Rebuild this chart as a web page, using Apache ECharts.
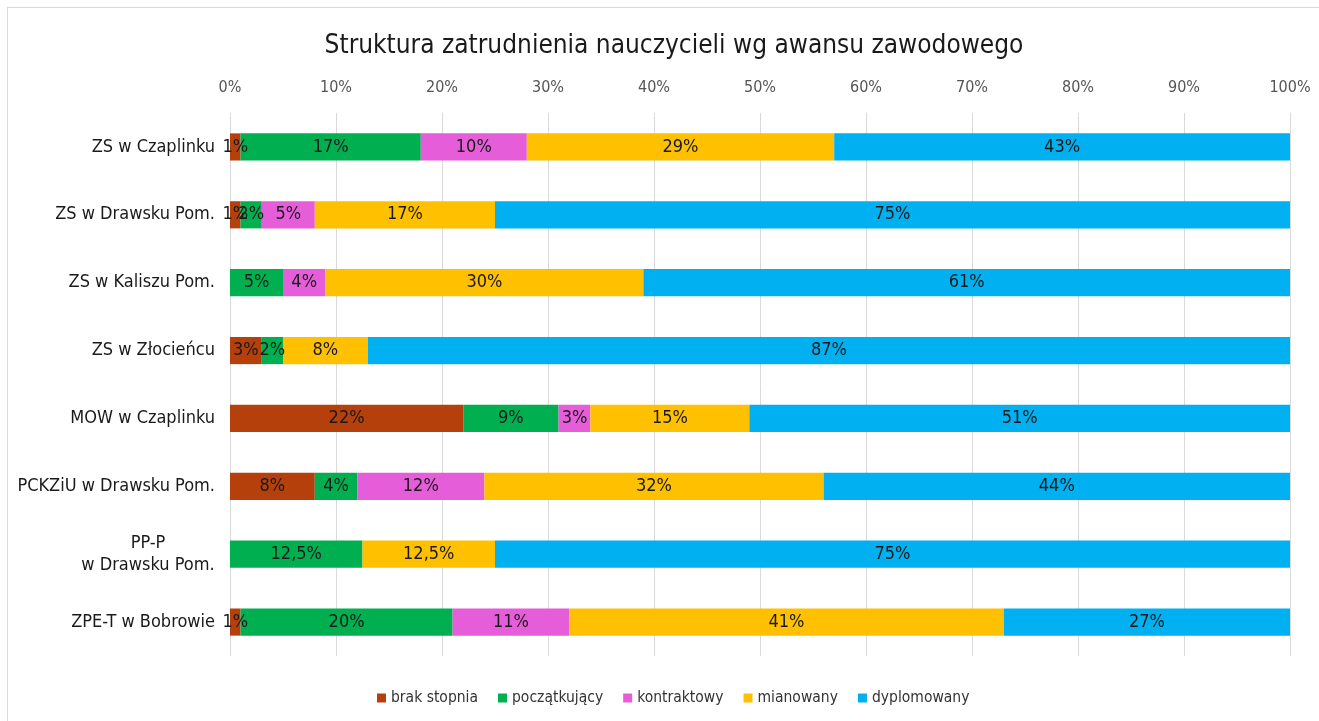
<!DOCTYPE html>
<html>
<head>
<meta charset="utf-8">
<script src="https://cdn.jsdelivr.net/npm/echarts@6/dist/echarts.min.js"></script>
<style>
  html, body { margin: 0; padding: 0; background: #fff; }
  #frame {
    position: absolute; left: 7px; top: 7px; width: 1320px; height: 720px;
    border: 1px solid #d9d9d9; box-sizing: border-box;
  }
  #chart { position: absolute; left: 0; top: 0; width: 1319px; height: 721px; }
</style>
</head>
<body>
<div id="frame"></div>
<div id="chart"></div>
<script>
// kategorie (od góry do dołu)
const categories = [
  "ZS w Czaplinku",
  "ZS w Drawsku Pom.",
  "ZS w Kaliszu Pom.",
  "ZS w Złocieńcu",
  "MOW w Czaplinku",
  "PCKZiU w Drawsku Pom.",
  "PP-P\nw Drawsku Pom.",
  "ZPE-T w Bobrowie"
]
const seriesNames = ["brak stopnia", "początkujący", "kontraktowy", "mianowany", "dyplomowany"]
const brakStopnia = [1, 1, 0, 3, 22, 8, 0, 1]
const poczatkujacy = [17, 2, 5, 2, 9, 4, 12.5, 20]
const kontraktowy = [10, 5, 4, 0, 3, 12, 0, 11]
const mianowany = [29, 17, 30, 8, 15, 32, 12.5, 41]
const dyplomowany = [43, 75, 61, 87, 51, 44, 75, 27]
const xTicks = [0, 10, 20, 30, 40, 50, 60, 70, 80, 90, 100]

const colors = ["#B5400C", "#00B050", "#E65DDA", "#FFC000", "#00B0F0"]
const values = [brakStopnia, poczatkujacy, kontraktowy, mianowany, dyplomowany]
const narrow = "Liberation Sans Narrow, DejaVu Sans Condensed, sans-serif"

const chart = echarts.init(document.getElementById("chart"))

const series = seriesNames.map(function (name, i) {
  return {
    name: name,
    type: "bar",
    stack: "total",
    barWidth: "40%",
    itemStyle: { color: colors[i] },
    label: {
      show: true,
      position: "inside",
      color: "#1a1a1a",
      fontSize: 18,
      fontFamily: narrow,
      formatter: function (p) {
        if (!p.value) return ""
        return String(p.value).replace(".", ",") + "%"
      }
    },
    data: values[i]
  }
})

const option = {
  animation: false,
  color: colors,
  title: {
    text: "Struktura zatrudnienia nauczycieli wg awansu zawodowego",
    left: 669,
    textAlign: "center",
    top: 28,
    textStyle: {
      fontSize: 26,
      fontWeight: "normal",
      color: "#1a1a1a",
      fontFamily: narrow
    }
  },
  legend: {
    bottom: 10,
    left: 372,
    itemWidth: 9,
    itemHeight: 9,
    itemGap: 20,
    icon: "rect",
    textStyle: {
      fontSize: 15.5,
      color: "#333",
      fontFamily: narrow
    },
    data: seriesNames
  },
  grid: {
    left: 230,
    right: 29,
    top: 113,
    bottom: 65,
    containLabel: false
  },
  xAxis: {
    type: "value",
    position: "top",
    min: xTicks[0],
    max: xTicks[xTicks.length - 1],
    interval: 10,
    axisLine: { show: false },
    axisTick: { show: false },
    axisLabel: {
      formatter: "{value}%",
      fontSize: 16,
      color: "#555",
      margin: 17,
      fontFamily: narrow
    },
    splitLine: { show: true, lineStyle: { color: "#d9d9d9", width: 1 } }
  },
  yAxis: {
    type: "category",
    inverse: true,
    data: categories,
    axisLine: { show: false },
    axisTick: { show: false },
    axisLabel: {
      fontSize: 18,
      color: "#1a1a1a",
      margin: 15,
      align: "right",
      fontFamily: narrow,
      formatter: function (v) {
        if (v.indexOf("\n") < 0) return v
        return v.split("\n").map(function (s) { return "{c|" + s + "}" }).join("\n")
      },
      rich: {
        c: {
          width: 134,
          align: "center",
          fontSize: 18,
          lineHeight: 22,
          color: "#1a1a1a",
          fontFamily: narrow
        }
      }
    }
  },
  series: series
}

chart.setOption(option)
</script>
</body>
</html>
